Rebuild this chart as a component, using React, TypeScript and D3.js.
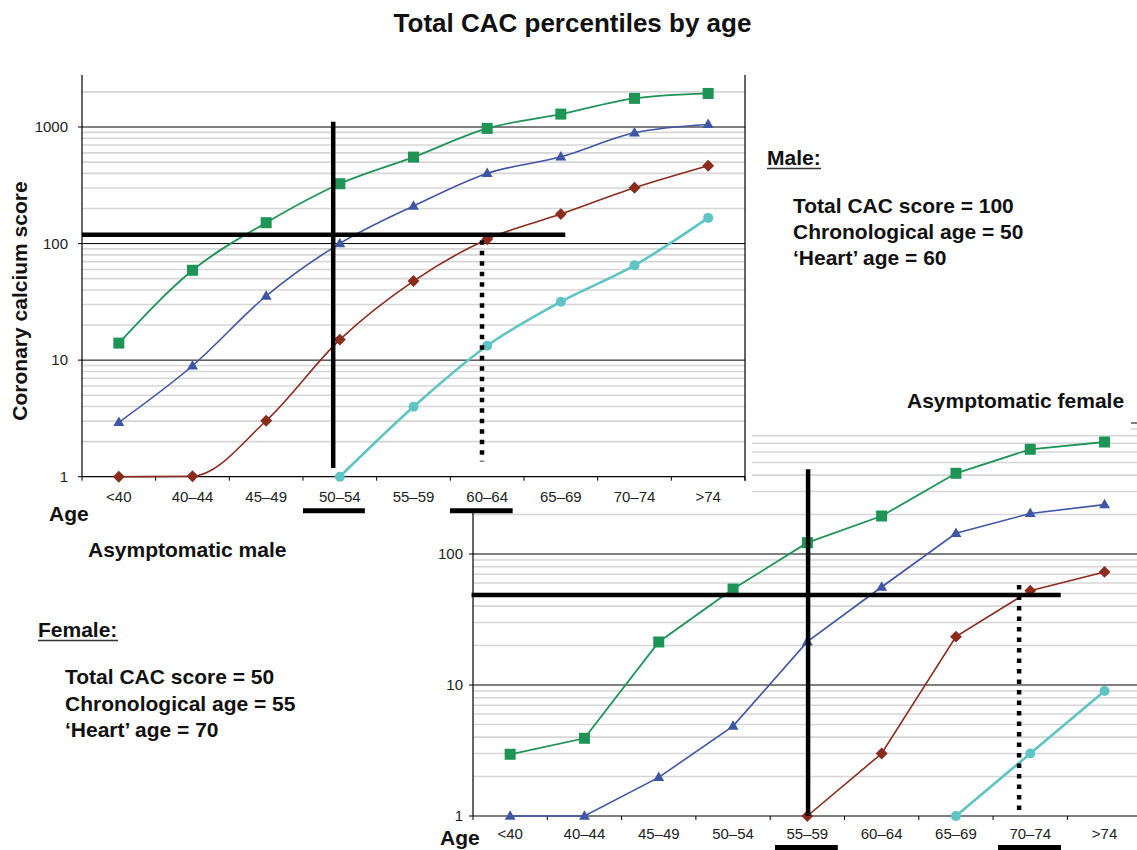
import React from "react";
import * as d3 from "d3";

// ---------- data ----------
const ageGroups = ["<40", "40–44", "45–49", "50–54", "55–59", "60–64", "65–69", "70–74", ">74"];

// Asymptomatic male – CAC percentiles (90th, 75th, 50th, 25th)
const maleP90 = [14, 59, 151, 326, 552, 973, 1290, 1760, 1940];
const maleP75 = [2.93, 8.95, 35.5, 100, 210, 400, 555, 892, 1052];
const maleP50 = [1, 1.01, 3.02, 15, 47.7, 109, 179, 301, 465];
const maleP25 = [null, null, null, 1, 3.98, 13.3, 31.7, 65, 166];

// Asymptomatic female – CAC percentiles
const femaleP90 = [2.96, 3.92, 21.3, 54, 122, 195, 413, 630, 716];
const femaleP75 = [1, 1, 1.97, 4.86, 21.4, 56, 144, 204, 238];
const femaleP50 = [null, null, null, null, 1, 3, 23.4, 52.5, 73];
const femaleP25 = [null, null, null, null, null, null, 1, 3, 9];

const maleYTicks = [1, 10, 100, 1000];
const femaleYTicks = [1, 10, 100, 1000];
const maleMinor = [2, 3, 4, 5, 6, 7, 8, 9, 20, 30, 40, 50, 60, 70, 80, 90, 200, 300, 400, 500, 600, 700, 800, 900, 2000];
const femaleMinor = [2, 3, 4, 5, 6, 7, 8, 9, 20, 30, 40, 50, 60, 70, 80, 90, 200, 300, 400, 500, 600, 700, 800, 900];

// annotation values (score level, age positions as category index)
const maleScoreLine = { value: 119, from: -0.5, to: 6.06 };
const maleChrono = { index: 2.91, from: 1.19, to: 1109 };
const maleHeart = { index: 4.93, from: 107, to: 1.35 };
const maleBars = [[2.5, 3.34], [4.495, 5.346]];

const femaleScoreLine = { value: 48.7, from: -0.52, to: 7.41 };
const femaleChrono = { index: 4.01, from: 1, to: 443 };
const femaleHeart = { index: 6.85, from: 58, to: 1.11 };
const femaleBars = [[3.565, 4.41], [6.566, 7.414]];

const GREEN = "#1e9457";
const BLUE = "#3f55a5";
const RED = "#8b2b1c";
const CYAN = "#5ec4c4";
const GRID = "#d6d6d6";
const FONT = "'Liberation Sans', Arial, Helvetica, sans-serif";

type Series = { values: (number | null)[]; color: string; shape: string; width: number };

function marker(shape: string, x: number, y: number, color: string, key: string) {
  if (shape === "square") {
    return <rect key={key} x={x - 5.5} y={y - 5.5} width={11} height={11} fill={color} />;
  }
  if (shape === "triangle") {
    const p = d3.symbol().type(d3.symbolTriangle).size(52)();
    return <path key={key} d={p as string} transform={`translate(${x},${y + 0.5})`} fill={color} />;
  }
  if (shape === "diamond") {
    return <rect key={key} x={-4.2} y={-4.2} width={8.4} height={8.4} fill={color} transform={`translate(${x},${y}) rotate(45)`} />;
  }
  return <circle key={key} cx={x} cy={y} r={5} fill={color} />;
}

function Panel(props: {
  x0: number; x1: number; gridEnd: number; yBottom: number; yTop: number;
  yMax: number; decadeTop: number; decadeTopPx: number;
  ticks: number[]; minor: number[]; series: Series[]; curve: any;
  scoreLine: any; chrono: any; heart: any; bars: number[][]; barY: number;
  labelY: number; tickLabelX: number; rightAxis: boolean; id: string;
}) {
  const p = props;
  const y = d3.scaleLog().domain([1, p.decadeTop]).range([p.yBottom, p.decadeTopPx]);
  const x = d3.scaleLinear().domain([-0.5, ageGroups.length - 0.5]).range([p.x0, p.x1]);
  const topPx = y(p.yMax);
  const boundaries = d3.range(ageGroups.length + 1).map((i) => i - 0.5);
  return (
    <g>
      {p.minor.map((v) => (
        <line key={"mn" + v} x1={p.x0} x2={p.gridEnd} y1={y(v)} y2={y(v)} stroke={GRID} strokeWidth={1.6} />
      ))}
      {p.ticks.filter((v) => v > 1 && v <= p.yMax).map((v) => (
        <line key={"mj" + v} x1={p.x0 - 4} x2={p.gridEnd} y1={y(v)} y2={y(v)} stroke="#000" strokeWidth={1} />
      ))}
      {/* y axis */}
      <line x1={p.x0} x2={p.x0} y1={topPx} y2={p.yBottom} stroke="#000" strokeWidth={1.2} />
      <line x1={p.x0 - 4} x2={p.x0} y1={p.yBottom} y2={p.yBottom} stroke="#000" strokeWidth={1} />
      {p.rightAxis && <line x1={p.x1} x2={p.x1} y1={topPx} y2={p.yBottom + 4} stroke="#000" strokeWidth={1.2} />}
      {/* x axis */}
      <line x1={p.x0} x2={p.gridEnd} y1={p.yBottom} y2={p.yBottom} stroke="#000" strokeWidth={1.2} />
      {boundaries.map((b) => (
        <line key={"xt" + b} x1={x(b)} x2={x(b)} y1={p.yBottom} y2={p.yBottom + 4} stroke="#000" strokeWidth={1} />
      ))}
      {ageGroups.map((g, i) => (
        <text key={"xl" + i} x={x(i)} y={p.labelY} textAnchor="middle" fontSize={15} fontFamily={FONT} fill="#222">
          {g}
        </text>
      ))}
      {p.ticks.filter((v) => v <= p.yMax).map((v) => (
        <text key={"yl" + v} x={p.tickLabelX} y={y(v) + 5.3} textAnchor="end" fontSize={15} fontFamily={FONT} fill="#222">
          {v}
        </text>
      ))}
      {/* series */}
      {p.series.map((s, si) => {
        const pts = s.values
          .map((v, i) => (v == null ? null : ([x(i), y(v)] as [number, number])))
          .filter((d) => d != null) as [number, number][];
        const d = d3.line().curve(p.curve)(pts) as string;
        return (
          <g key={"s" + si}>
            <path d={d} fill="none" stroke={s.color} strokeWidth={s.width} />
            {pts.map((pt, i) => marker(s.shape, pt[0], pt[1], s.color, p.id + si + "-" + i))}
          </g>
        );
      })}
      {/* annotations */}
      <line x1={x(p.scoreLine.from)} x2={x(p.scoreLine.to)} y1={y(p.scoreLine.value)} y2={y(p.scoreLine.value)} stroke="#000" strokeWidth={4.5} />
      <line x1={x(p.chrono.index)} x2={x(p.chrono.index)} y1={y(p.chrono.from)} y2={y(p.chrono.to)} stroke="#000" strokeWidth={4.5} />
      <line x1={x(p.heart.index)} x2={x(p.heart.index)} y1={y(p.heart.from)} y2={y(p.heart.to)} stroke="#000" strokeWidth={4.5} strokeDasharray="4.5 6" />
      {p.bars.map((b, i) => (
        <line key={"bar" + i} x1={x(b[0])} x2={x(b[1])} y1={p.barY} y2={p.barY} stroke="#000" strokeWidth={5} />
      ))}
    </g>
  );
}

const boldText = (t: string, x: number, y: number, anchor: string = "start", key?: string) => (
  <text key={key} x={x} y={y} fontSize={21} fontWeight="bold" fontFamily={FONT} textAnchor={anchor as any} fill="#111">
    {t}
  </text>
);

export default function App() {
  const maleSeries: Series[] = [
    { values: maleP90, color: GREEN, shape: "square", width: 1.8 },
    { values: maleP75, color: BLUE, shape: "triangle", width: 1.6 },
    { values: maleP50, color: RED, shape: "diamond", width: 1.6 },
    { values: maleP25, color: CYAN, shape: "circle", width: 2.6 },
  ];
  const femaleSeries: Series[] = [
    { values: femaleP90, color: GREEN, shape: "square", width: 1.8 },
    { values: femaleP75, color: BLUE, shape: "triangle", width: 1.6 },
    { values: femaleP50, color: RED, shape: "diamond", width: 1.6 },
    { values: femaleP25, color: CYAN, shape: "circle", width: 2.6 },
  ];
  return (
    <svg width={1137} height={850} style={{ position: "absolute", left: 0, top: 0, background: "#fff" }}>
      <rect x={0} y={0} width={1137} height={850} fill="#fff" />
      {/* female panel (behind) */}
      <Panel
        id="f" x0={473} x1={1141.7} gridEnd={1137} yBottom={816} yTop={423}
        yMax={1000} decadeTop={1000} decadeTopPx={423}
        ticks={femaleYTicks} minor={femaleMinor} series={femaleSeries} curve={d3.curveLinear}
        scoreLine={femaleScoreLine} chrono={femaleChrono} heart={femaleHeart} bars={femaleBars}
        barY={847.5} labelY={839} tickLabelX={463} rightAxis={false}
      />
      <rect x={752} y={378} width={379} height={53} fill="#fff" />
      {boldText("Asymptomatic female", 907, 408)}
      {/* male panel box */}
      <rect x={0} y={50} width={752} height={461} fill="#fff" />
      <Panel
        id="m" x0={82} x1={745} gridEnd={745} yBottom={476.7} yTop={75}
        yMax={2800} decadeTop={1000} decadeTopPx={127}
        ticks={maleYTicks} minor={maleMinor} series={maleSeries} curve={d3.curveMonotoneX}
        scoreLine={maleScoreLine} chrono={maleChrono} heart={maleHeart} bars={maleBars}
        barY={510.8} labelY={501.5} tickLabelX={68} rightAxis={true}
      />
      {/* titles & texts */}
      <text x={572.5} y={31.5} textAnchor="middle" fontSize={26} fontWeight="bold" fontFamily={FONT} fill="#111">
        Total CAC percentiles by age
      </text>
      <text transform="translate(27,301) rotate(-90)" textAnchor="middle" fontSize={21} fontWeight="bold" fontFamily={FONT} fill="#111">
        Coronary calcium score
      </text>
      {boldText("Age", 49, 521)}
      {boldText("Asymptomatic male", 88, 557)}
      {boldText("Age", 440, 845)}
      {boldText("Male:", 767, 165)}
      <line x1={767} x2={821} y1={168.5} y2={168.5} stroke="#333" strokeWidth={1.6} />
      {boldText("Total CAC score = 100", 793, 212.7)}
      {boldText("Chronological age = 50", 793, 238.7)}
      {boldText("‘Heart’ age = 60", 793, 264.7)}
      {boldText("Female:", 38, 637)}
      <line x1={38} x2={118} y1={640.5} y2={640.5} stroke="#333" strokeWidth={1.6} />
      {boldText("Total CAC score = 50", 65, 684)}
      {boldText("Chronological age = 55", 65, 710.5)}
      {boldText("‘Heart’ age = 70", 65, 737)}
    </svg>
  );
}
